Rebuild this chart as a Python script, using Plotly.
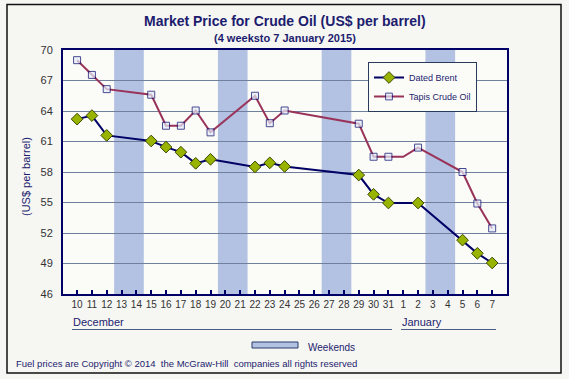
import plotly.graph_objects as go

dates = ["10", "11", "12", "13", "14", "15", "16", "17", "18", "19", "20", "21",
         "22", "23", "24", "25", "26", "27", "28", "29", "30", "31",
         "1", "2", "3", "4", "5", "6", "7"]
brent = [63.2, 63.55, 61.6, None, None, 61.05, 60.45, 59.95, 58.85, 59.25, None, None,
         58.5, 58.9, 58.55, None, None, None, None, 57.7, 55.8, 54.95,
         None, 54.95, None, None, 51.3, 50.0, 49.05]
tapis = [69.0, 67.55, 66.15, None, None, 65.6, 62.55, 62.55, 64.05, 61.9, None, None,
         65.5, 62.8, 64.05, None, None, None, None, 62.75, 59.5, 59.5,
         59.5, 60.4, None, None, 58.0, 54.9, 52.45]
tapis_unmarked = ["1"]
weekends = [("13", "14"), ("20", "21"), ("27", "28"), ("3", "4")]
y_ticks = [46, 49, 52, 55, 58, 61, 64, 67, 70]

W, H = 569, 379
L, R, T, B = 63, 507, 50, 294
idx = list(range(len(dates)))


def px(x):
    return (x - L) / (R - L)


def py(y):
    return (B - y) / (B - T)


FONT = "Liberation Sans, Arial"
TXT = "#1c1c6e"
fig = go.Figure()

fig.add_trace(go.Scatter(
    x=idx, y=brent, name="Dated Brent", mode="lines+markers", connectgaps=True,
    line=dict(color="#000066", width=2),
    marker=dict(symbol="diamond", size=9, color="#99b400",
                line=dict(color="#3a4a00", width=1))))

tapis_sizes = [0 if d in tapis_unmarked else 7 for d in dates]
fig.add_trace(go.Scatter(
    x=idx, y=tapis, name="Tapis Crude Oil", mode="lines+markers", connectgaps=True,
    line=dict(color="#993359", width=2),
    marker=dict(symbol="square", size=tapis_sizes, color="#e4eefa",
                line=dict(color="#000066", width=1))))

shapes = []
for a, b in weekends:
    shapes.append(dict(type="rect", xref="x", yref="paper",
                       x0=dates.index(a) - 0.5, x1=dates.index(b) + 0.5, y0=0, y1=1,
                       fillcolor="#b3c1e2", line=dict(width=0), layer="between"))
# outer frame
shapes.append(dict(type="rect", xref="paper", yref="paper",
                   x0=px(7), x1=px(561), y0=py(373), y1=py(4.5),
                   line=dict(color="#111111", width=1.5), fillcolor="rgba(0,0,0,0)"))
# month underlines
shapes.append(dict(type="line", xref="paper", yref="paper",
                   x0=px(72), x1=px(392), y0=py(329.5), y1=py(329.5),
                   line=dict(color="#4a5f86", width=1)))
shapes.append(dict(type="line", xref="paper", yref="paper",
                   x0=px(401), x1=px(496), y0=py(329.5), y1=py(329.5),
                   line=dict(color="#4a5f86", width=1)))
# weekends legend swatch
shapes.append(dict(type="rect", xref="paper", yref="paper",
                   x0=px(252), x1=px(298), y0=py(348), y1=py(342),
                   fillcolor="#b3c1e2", line=dict(color="#2a3a6a", width=1)))


def note(x, y, text, size, xanchor="center", angle=0, bold=False):
    return dict(x=px(x), y=py(y), xref="paper", yref="paper", showarrow=False,
                xanchor=xanchor, yanchor="middle", textangle=angle,
                text=f"<b>{text}</b>" if bold else text,
                font=dict(size=size, color=TXT, family=FONT))


ann = [
    note(285, 21, "Market Price for Crude Oil (US$ per barrel)", 14, bold=True),
    note(285, 38, "(4 weeksto 7 January 2015)", 11, bold=True),
    note(26, 177, "(US$ per barrel)", 11, angle=-90),
    note(71, 322, "December", 11, xanchor="left"),
    note(400, 322, "January", 11, xanchor="left"),
    note(306, 347, "Weekends", 10, xanchor="left"),
    note(14, 363, "Fuel prices are Copyright \u00a9 2014  the McGraw-Hill  companies all rights reserved",
         9.5, xanchor="left"),
]

fig.update_layout(
    width=W, height=H,
    margin=dict(l=L, r=W - R, t=T, b=H - B, pad=0),
    paper_bgcolor="#f6f6f3", plot_bgcolor="#fbfbf8",
    font=dict(family=FONT, size=10, color="#333333"),
    showlegend=True,
    legend=dict(x=px(368), y=py(62), xanchor="left", yanchor="top",
                bgcolor="#fbfbf8", bordercolor="#2a3a5a", borderwidth=1,
                font=dict(size=9, color=TXT), tracegroupgap=0,
                itemwidth=30),
    shapes=shapes, annotations=ann,
    xaxis=dict(range=[-0.95, 29.0], tickvals=idx, ticktext=dates,
               showgrid=False, zeroline=False, showline=True, mirror=True,
               linecolor="#000066", linewidth=2, ticks="inside", ticklen=4,
               tickcolor="#000066", tickwidth=1.5, tickfont=dict(size=10, color="#333333")),
    yaxis=dict(range=[46, 70], tickvals=y_ticks, showgrid=True, gridcolor="#6f7f9c",
               gridwidth=1, zeroline=False, showline=True, mirror=True,
               linecolor="#000066", linewidth=2, ticks="", ticklabelstandoff=6,
               tickfont=dict(size=11, color="#333333")),
)

fig.write_html("out.html", config={"displayModeBar": False},
               post_script="document.body.style.margin='0';document.body.style.overflow='hidden';")
